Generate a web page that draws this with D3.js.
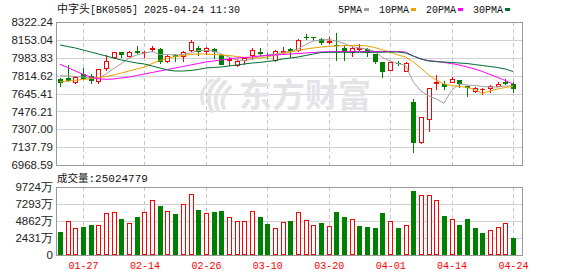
<!DOCTYPE html>
<html>
<head>
<meta charset="utf-8">
<script src="https://cdn.jsdelivr.net/npm/d3@7"></script>
<style>
  body { margin: 0; background: #fff; }
  svg { display: block; }
</style>
</head>
<body>
<svg id="chart" width="578" height="276"></svg>
<script>
// 交易日
const dates = [
  "01-22", "01-23", "01-24", "01-27", "02-05", "02-06", "02-07", "02-10", "02-11", "02-12",
  "02-13", "02-14", "02-17", "02-18", "02-19", "02-20", "02-21", "02-24", "02-25", "02-26",
  "02-27", "02-28", "03-03", "03-04", "03-05", "03-06", "03-07", "03-10", "03-11", "03-12",
  "03-13", "03-14", "03-17", "03-18", "03-19", "03-20", "03-21", "03-24", "03-25", "03-26",
  "03-27", "03-28", "03-31", "04-01", "04-02", "04-03", "04-07", "04-08", "04-09", "04-10",
  "04-11", "04-14", "04-15", "04-16", "04-17", "04-18", "04-21", "04-22", "04-23", "04-24"
];

// K线 开高低收
const open = [
  7779.8, 7789.3, 7747.6, 7827.2, 7811.1, 7757.1, 7874.5, 7978.6, 8035.4, 7990.8,
  8047.7, 8026.0, 8057.2, 8063.9, 7941.7, 8009.9, 7990.8, 8047.7, 8079.0, 8035.4,
  8066.7, 8009.9, 7955.9, 7904.4, 7955.9, 8003.3, 8041.1, 8009.9, 7951.2, 8033.5,
  8066.7, 8047.7, 8177.5, 8177.5, 8161.3, 8120.7, 8104.6, 8079.0, 8026.0, 8057.2,
  8066.7, 8016.5, 7941.7, 7861.2, 7937.0, 7851.8, 7567.8, 7179.7, 7389.9, 7732.5,
  7732.5, 7747.6, 7773.2, 7716.4, 7662.5, 7678.6, 7688.0, 7709.8, 7757.1, 7735.3
];
const high = [
  7789.3, 7915.2, 7813.9, 7883.9, 7830.0, 7877.3, 8009.9, 8038.3, 8038.3, 8043.0,
  8095.1, 8047.7, 8095.1, 8073.3, 8009.9, 8016.5, 8047.7, 8151.9, 8097.9, 8088.4,
  8079.0, 8016.5, 7988.1, 7972.0, 7988.1, 8073.3, 8079.0, 8028.8, 8052.5, 8085.6,
  8079.0, 8161.3, 8205.9, 8180.3, 8166.1, 8177.5, 8221.0, 8104.6, 8088.4, 8111.2,
  8071.4, 8019.3, 7944.6, 7944.6, 7956.9, 7946.4, 7590.5, 7421.0, 7694.7, 7820.5,
  7766.6, 7804.4, 7777.9, 7721.1, 7709.8, 7694.7, 7725.9, 7757.1, 7782.7, 7754.2
];
const low = [
  7709.8, 7757.1, 7735.3, 7773.2, 7735.3, 7732.5, 7861.2, 7975.7, 7985.2, 7978.6,
  8016.5, 7985.2, 8041.1, 7925.6, 7935.0, 7946.4, 7940.7, 8041.1, 8003.3, 8009.9,
  7969.1, 7913.8, 7904.4, 7897.8, 7915.2, 7962.5, 8003.3, 7972.0, 7941.7, 8005.2,
  7978.6, 8041.1, 8151.9, 8145.3, 8104.6, 8111.2, 7951.2, 7951.2, 7988.1, 8050.6,
  7988.1, 7928.4, 7795.0, 7858.4, 7909.5, 7849.0, 7085.0, 7172.0, 7283.8, 7678.6,
  7678.6, 7742.0, 7697.5, 7615.1, 7653.0, 7631.3, 7653.0, 7709.8, 7725.9, 7650.2
];
const close = [
  7742.0, 7763.7, 7804.4, 7779.8, 7766.6, 7874.5, 7953.0, 8035.4, 8009.9, 8041.1,
  8028.8, 8035.4, 8073.3, 7941.7, 8003.3, 7988.1, 8035.4, 8135.8, 8041.1, 8073.3,
  8041.1, 7919.5, 7969.1, 7953.0, 7978.6, 8057.2, 8019.3, 7997.6, 8047.7, 8043.0,
  8047.7, 8151.9, 8170.8, 8172.7, 8120.7, 8142.4, 8095.1, 8047.7, 8073.3, 8073.3,
  8026.0, 7946.4, 7851.8, 7941.7, 7932.3, 7935.0, 7179.7, 7420.2, 7694.7, 7757.1,
  7709.8, 7782.7, 7732.5, 7702.2, 7694.7, 7683.3, 7713.6, 7733.4, 7735.3, 7683.3
];

// 成交量（万）及涨跌方向（1 涨 红，0 跌 绿）
const volume = [
  3305, 4838, 3832, 4024, 4311, 4263, 5988, 6131, 5173, 4550,
  5461, 6131, 7856, 7041, 6275, 5892, 7281, 8718, 6467, 5988,
  6179, 6323, 5413, 4838, 4838, 6275, 5461, 4455, 3832, 4694,
  4886, 6131, 4982, 4263, 4598, 4119, 6179, 5461, 5125, 4167,
  4024, 3880, 6036, 4838, 3880, 4263, 9197, 8574, 8574, 7904,
  5604, 5125, 4311, 5173, 3880, 3161, 3545, 3976, 4550, 2502
];
const volUp = [
  0, 1, 1, 0, 0, 1, 1, 1, 0, 1,
  0, 1, 1, 0, 1, 0, 1, 1, 0, 1,
  0, 0, 1, 1, 1, 1, 0, 0, 1, 1,
  0, 1, 1, 1, 0, 1, 0, 0, 1, 0,
  0, 0, 0, 1, 0, 1, 0, 1, 1, 1,
  0, 1, 0, 0, 0, 0, 1, 1, 1, 0
];

// 均线
const ma5 = [
  7813.9, 7811.1, 7806.3, 7801.6, 7792.2, 7787.4, 7830.0, 7882.1, 7929.4, 7981.5,
  8009.9, 8028.8, 8041.1, 8014.6, 8014.6, 8009.9, 8014.6, 8028.8, 8052.5, 8052.5,
  8047.7, 8019.3, 7990.9, 7962.5, 7957.8, 7972.0, 7995.7, 8009.9, 8019.3, 8033.5,
  8043.0, 8066.7, 8109.3, 8142.4, 8151.9, 8156.6, 8142.4, 8118.7, 8090.3, 8076.1,
  8066.7, 8043.0, 7986.2, 7953.1, 7929.4, 7910.5, 7756.2, 7670.1, 7624.6, 7593.4,
  7552.7, 7672.9, 7735.4, 7725.9, 7721.2, 7711.7, 7707.0, 7707.0, 7716.4, 7716.4
];
const ma10 = [
  7757.1, 7763.8, 7770.4, 7777.9, 7787.4, 7796.9, 7806.3, 7820.5, 7839.5, 7858.4,
  7877.3, 7896.3, 7929.4, 7957.8, 7976.7, 7995.7, 8005.1, 8014.6, 8019.3, 8019.3,
  8014.6, 8009.9, 8005.1, 7995.7, 7986.2, 7981.5, 7981.5, 7990.9, 8009.9, 8024.1,
  8038.3, 8052.5, 8066.7, 8076.1, 8085.6, 8090.3, 8095.1, 8097.9, 8099.8, 8099.8,
  8095.1, 8080.9, 8057.2, 8038.3, 8009.9, 7990.9, 7943.6, 7886.8, 7820.5, 7773.2,
  7735.4, 7721.2, 7711.7, 7702.2, 7683.3, 7645.4, 7669.1, 7688.0, 7702.2, 7711.7
];
const ma20 = [
  7921.8, 7891.5, 7858.4, 7827.2, 7801.6, 7784.6, 7779.8, 7782.7, 7792.2, 7801.6,
  7815.8, 7830.0, 7844.2, 7858.4, 7872.6, 7886.8, 7901.0, 7915.2, 7929.4, 7943.6,
  7953.1, 7962.5, 7972.0, 7981.5, 7986.2, 7990.9, 8000.4, 8005.1, 8009.9, 8014.6,
  8019.3, 8024.1, 8028.8, 8033.5, 8038.3, 8041.1, 8043.0, 8043.0, 8043.0, 8043.0,
  8043.0, 8043.0, 8043.0, 8043.0, 8043.0, 8038.3, 8000.4, 7972.0, 7957.8, 7950.2,
  7938.9, 7929.4, 7915.2, 7896.3, 7877.3, 7853.7, 7825.3, 7796.9, 7768.5, 7735.4
];
const ma30 = [
  8104.6, 8090.3, 8076.1, 8057.2, 8038.3, 8019.3, 8000.4, 7981.5, 7962.5, 7948.3,
  7934.1, 7924.7, 7905.7, 7886.8, 7867.9, 7858.4, 7858.4, 7863.2, 7872.6, 7886.8,
  7891.5, 7896.3, 7905.7, 7915.2, 7924.7, 7934.1, 7938.9, 7948.3, 7957.8, 7972.0,
  7981.5, 7990.9, 8005.1, 8019.3, 8033.5, 8035.4, 8035.4, 8035.4, 8035.4, 8035.4,
  8035.4, 8035.4, 8036.4, 8038.3, 8038.3, 8028.8, 8000.4, 7972.0, 7953.1, 7946.4,
  7943.6, 7938.9, 7934.1, 7929.4, 7919.9, 7910.5, 7901.0, 7891.5, 7877.3, 7853.7
];

// 坐标刻度
const priceTicks = [8322.24, 8153.04, 7983.83, 7814.62, 7645.41, 7476.21, 7307.00, 7137.79, 6968.59];
const volTicks = [9724, 7293, 4862, 2431, 0];
const dateTicks = ["01-27", "02-14", "02-26", "03-10", "03-20", "04-01", "04-14", "04-24"];

const maNames = ["5PMA", "10PMA", "20PMA", "30PMA"];
const maColors = ["#a0a0a0", "#f0a000", "#ff00ff", "#006e32"];
const maSeries = [ma5, ma10, ma20, ma30];

const RED = "#ff0000", GREEN = "#008000";
const monoFont = "'Liberation Mono', 'DejaVu Sans Mono', monospace";
const sansFont = "'Liberation Sans', Arial, sans-serif";
const cjkFont = "'Noto Sans CJK SC', sans-serif";

const svg = d3.select("#chart");

// 区域
const left = 56, right = 522;
const top1 = 22, bot1 = 165;
const top2 = 187, bot2 = 255;

const x = d3.scalePoint().domain(dates).range([60, 513]);
const y = d3.scaleLinear().domain([6968.59, 8322.24]).range([bot1, top1]);
const yv = d3.scaleLinear().domain([0, 9724]).range([bot2, top2]);

const rows = dates.map((d, i) => ({
  date: d, o: open[i], h: high[i], l: low[i], c: close[i], v: volume[i], vu: volUp[i]
}));

// 标题
const title = svg.append("text").attr("x", 57).attr("y", 13).attr("fill", "#111");
title.append("tspan").style("font-family", cjkFont).style("font-size", "11px").text("中字头");
title.append("tspan").style("font-family", monoFont).style("font-size", "10px").text("[BK0505] 2025-04-24 11:30");

// 图例
let lx = 338;
maNames.forEach((name, k) => {
  const t = svg.append("text")
    .attr("x", lx).attr("y", 13)
    .style("font-family", monoFont).style("font-size", "10px")
    .attr("fill", "#111").text(name);
  const w = t.node().getComputedTextLength();
  svg.append("rect")
    .attr("x", lx + w + 2).attr("y", 8).attr("width", 5).attr("height", 3)
    .attr("fill", maColors[k]);
  lx += w + 17;
});

// 网格
const grid = svg.append("g");
priceTicks.slice(1, -1).forEach(p => {
  grid.append("line")
    .attr("x1", left).attr("x2", right)
    .attr("y1", Math.round(y(p)) + 0.5).attr("y2", Math.round(y(p)) + 0.5)
    .attr("stroke", "#d2d2d2");
});
volTicks.slice(1, -1).forEach(v => {
  grid.append("line")
    .attr("x1", left).attr("x2", right)
    .attr("y1", Math.round(yv(v)) + 0.5).attr("y2", Math.round(yv(v)) + 0.5)
    .attr("stroke", "#d2d2d2");
});
dateTicks.forEach(d => {
  const xx = Math.round(x(d)) + 0.5;
  [[top1, bot1], [top2, bot2]].forEach(([a, b]) => {
    grid.append("line")
      .attr("x1", xx).attr("x2", xx).attr("y1", a).attr("y2", b)
      .attr("stroke", "#c8c8c8").attr("stroke-dasharray", "4,3");
  });
});

// 水印
const wm = svg.append("g").attr("fill", "none").attr("stroke", "#e4e4e8");
[
  "M219 79 Q203 92 212 111",
  "M225 82 Q211 96 218 110",
  "M230 87 Q219 99 224 108",
  "M212 80 Q198 90 203 104"
].forEach((p, k) => {
  wm.append("path").attr("d", p).attr("stroke-width", k === 3 ? 3 : 4).attr("stroke-linecap", "round");
});
svg.append("text")
  .attr("x", 239).attr("y", 107)
  .style("font-family", cjkFont).style("font-size", "33px").style("font-weight", 700)
  .attr("fill", "#e4e4e8").text("东方财富");

// 边框
svg.append("rect").attr("x", left + 0.5).attr("y", top1 + 0.5)
  .attr("width", right - left).attr("height", bot1 - top1)
  .attr("fill", "none").attr("stroke", "#999");
svg.append("rect").attr("x", left + 0.5).attr("y", top2 + 0.5)
  .attr("width", right - left).attr("height", bot2 - top2)
  .attr("fill", "none").attr("stroke", "#999");

// 价格轴
const yAxis = svg.append("g")
  .attr("transform", `translate(${left},0)`)
  .call(d3.axisLeft(y).tickValues(priceTicks).tickSize(0).tickPadding(3).tickFormat(d => d.toFixed(2)));
yAxis.select(".domain").remove();
yAxis.selectAll("text").style("font-family", sansFont).style("font-size", "11.5px").attr("fill", "#222");

// 成交量轴
const vAxis = svg.append("g")
  .attr("transform", `translate(${left},0)`)
  .call(d3.axisLeft(yv).tickValues(volTicks).tickSize(0).tickPadding(3).tickFormat(d => d === 0 ? "0" : d + "万"));
vAxis.select(".domain").remove();
vAxis.selectAll("text").style("font-family", sansFont).style("font-size", "11.5px").attr("fill", "#222");

// 日期轴
const xAxis = svg.append("g")
  .attr("transform", `translate(0,${bot2})`)
  .call(d3.axisBottom(x).tickValues(dateTicks).tickSize(0).tickPadding(7));
xAxis.select(".domain").remove();
xAxis.selectAll("text").style("font-family", monoFont).style("font-size", "10px").attr("fill", RED);

// 成交量标签
const vl = svg.append("text").attr("x", 57).attr("y", 182).attr("fill", "#111");
vl.append("tspan").style("font-family", cjkFont).style("font-size", "10.5px").text("成交量");
vl.append("tspan").style("font-family", monoFont).style("font-size", "11px").text(":25024779");

// K线
const candles = svg.append("g");
rows.forEach(d => {
  const cx = Math.round(x(d.date));
  const up = d.c >= d.o;
  const col = up ? RED : GREEN;
  const yt = Math.round(y(Math.max(d.o, d.c)));
  const yb = Math.round(y(Math.min(d.o, d.c)));
  const yh = Math.round(y(d.h));
  const yl = Math.round(y(d.l));
  if (up) {
    if (yh < yt) candles.append("line").attr("x1", cx + 0.5).attr("x2", cx + 0.5).attr("y1", yh).attr("y2", yt).attr("stroke", col);
    if (yl > yb) candles.append("line").attr("x1", cx + 0.5).attr("x2", cx + 0.5).attr("y1", yb).attr("y2", yl).attr("stroke", col);
    if (yb - yt >= 2) {
      candles.append("rect").attr("x", cx - 1.5).attr("y", yt + 0.5)
        .attr("width", 4).attr("height", yb - yt - 1)
        .attr("fill", "#fff").attr("stroke", col);
    } else {
      candles.append("rect").attr("x", cx - 2).attr("y", yt).attr("width", 5).attr("height", Math.max(1, yb - yt)).attr("fill", col);
    }
  } else {
    candles.append("line").attr("x1", cx + 0.5).attr("x2", cx + 0.5).attr("y1", yh).attr("y2", yl).attr("stroke", col);
    candles.append("rect").attr("x", cx - 2).attr("y", yt)
      .attr("width", 5).attr("height", Math.max(1, yb - yt)).attr("fill", col);
  }
});

// 均线
svg.append("clipPath").attr("id", "clipMain")
  .append("rect").attr("x", left).attr("y", top1).attr("width", right - left).attr("height", bot1 - top1);
const line = d3.line().x((v, i) => x(dates[i])).y(v => y(v));
maSeries.forEach((s, k) => {
  svg.append("path")
    .attr("d", line(s))
    .attr("fill", "none")
    .attr("stroke", maColors[k])
    .attr("stroke-width", 1)
    .attr("clip-path", "url(#clipMain)");
});

// 成交量柱
const vols = svg.append("g");
rows.forEach(d => {
  const cx = Math.round(x(d.date));
  const yt = Math.round(yv(d.v));
  if (d.vu) {
    vols.append("rect").attr("x", cx - 1.5).attr("y", yt + 0.5)
      .attr("width", 4).attr("height", bot2 - yt - 1)
      .attr("fill", "#fff").attr("stroke", RED);
  } else {
    vols.append("rect").attr("x", cx - 2).attr("y", yt)
      .attr("width", 5).attr("height", bot2 - yt).attr("fill", GREEN);
  }
});
</script>
</body>
</html>
